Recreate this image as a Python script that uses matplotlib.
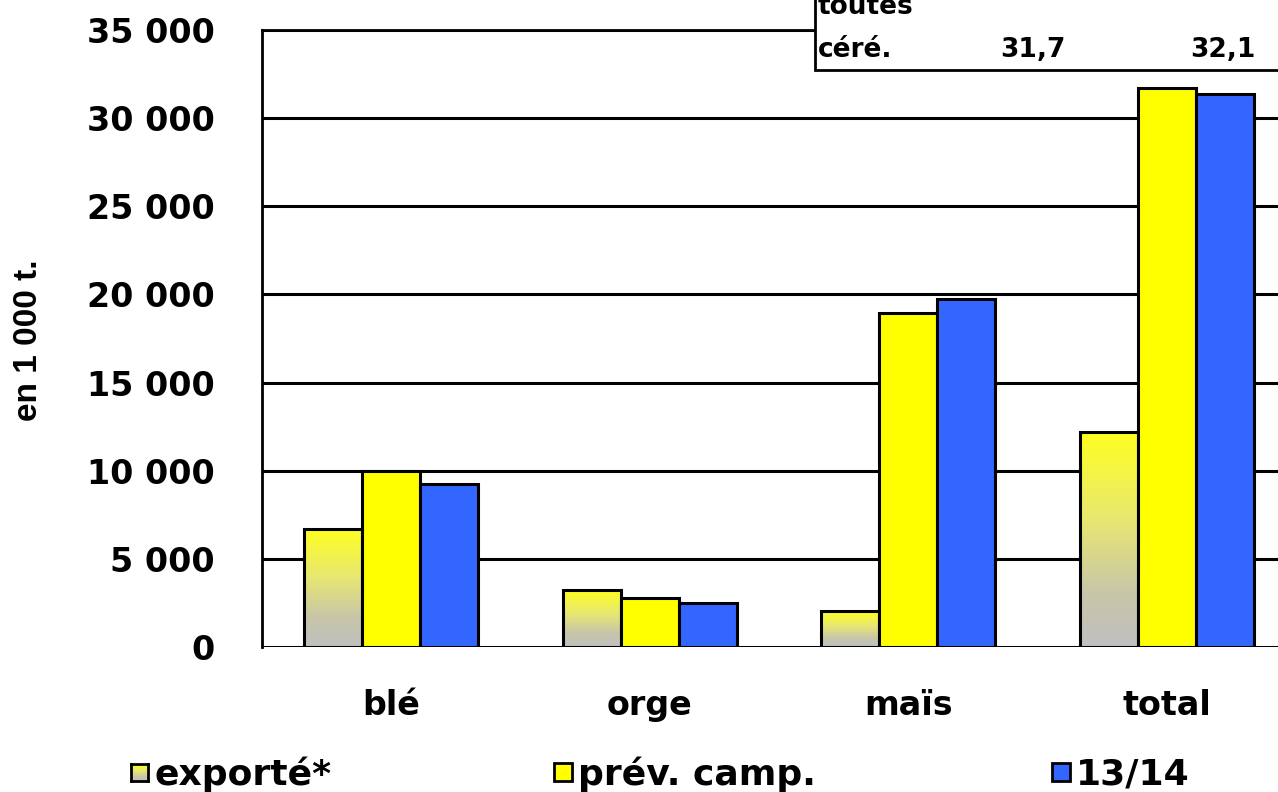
import matplotlib
matplotlib.use('Agg')
import matplotlib.pyplot as plt
import numpy as np
from matplotlib.colors import LinearSegmentedColormap
from matplotlib.patches import Rectangle

categories = ['blé', 'orge', 'maïs', 'total']
exporte = [6700, 3230, 2040, 12200]
prev_camp = [10000, 2780, 18950, 31700]
campagne_13_14 = [9250, 2500, 19740, 31370]
series_names = ['exporté*', 'prév. camp.', '13/14']
box_label = ['toutes', 'céré.']
box_values = ['31,7', '32,1']

W, H = 1278, 792
fig = plt.figure(figsize=(W / 100, H / 100), dpi=100)
ax = fig.add_axes([262 / W, (H - 647) / H, 1034 / W, 617 / H])

x = np.arange(len(categories))
bw = 0.224
grad = LinearSegmentedColormap.from_list('g', [(0, '#c0c0c0'), (0.25, '#c8c6a8'),
                                               (0.6, '#e8e870'), (1, '#ffff20')])

ex_bars = ax.bar(x - bw, exporte, bw, facecolor='none', edgecolor='black', linewidth=2.2, zorder=4)
ax.bar(x, prev_camp, bw, color='#ffff00', edgecolor='black', linewidth=2.2, zorder=4)
ax.bar(x + bw, campagne_13_14, bw, color='#3366ff', edgecolor='black', linewidth=2.2, zorder=4)

# gradient fill of the "exporté" bars
g = np.linspace(0, 1, 256).reshape(-1, 1)
for b in ex_bars:
    x0, y0 = b.get_x(), b.get_y()
    im = ax.imshow(g, cmap=grad, origin='lower', aspect='auto', zorder=3,
                   extent=[x0, x0 + b.get_width(), y0, y0 + b.get_height()])
    im.set_clip_path(b)

ax.set_xlim(-0.5, 3.5)
ax.set_ylim(0, 35000)
ax.set_yticks(range(0, 35001, 5000))
ax.set_yticklabels(['0' if v == 0 else f'{v // 1000} 000' for v in range(0, 35001, 5000)],
                   fontsize=24, fontweight='bold', family='DejaVu Sans')
ax.set_xticks(x)
ax.set_xticklabels(categories, fontsize=24, fontweight='bold', family='DejaVu Sans')
ax.tick_params(axis='y', length=0, pad=34)
ax.tick_params(axis='x', length=0, pad=30)
ax.yaxis.grid(True, color='black', linewidth=2.2, zorder=1)
ax.set_axisbelow(True)
for s in ['left', 'top']:
    ax.spines[s].set_linewidth(2)
for s in ['right', 'bottom']:
    ax.spines[s].set_visible(False)

fig.text(29 / W, 1 - 340 / H, 'en 1 000 t.', rotation=90, ha='center', va='center',
         fontsize=24, fontweight='bold', family='Liberation Sans')

# legend drawn by hand
leg_x = [131, 554, 1052]
leg_fc = [None, '#ffff00', '#3366ff']
for lx, fc, name in zip(leg_x, leg_fc, series_names):
    yb = 1 - 781 / H
    if fc is None:
        axl = fig.add_axes([lx / W, yb, 17 / W, 17 / H])
        axl.imshow(g, cmap=grad, origin='lower', aspect='auto', extent=[0, 1, 0, 1])
        axl.set_xticks([])
        axl.set_yticks([])
        for s in axl.spines.values():
            s.set_linewidth(2)
    else:
        fig.patches.append(Rectangle((lx / W, yb), 18 / W, 18 / H, transform=fig.transFigure,
                                     facecolor=fc, edgecolor='black', linewidth=2))
    fig.text((lx + 24) / W, 1 - 774 / H, name, ha='left', va='center',
             fontsize=26, fontweight='bold', family='DejaVu Sans')

# box top right
fig.patches.append(Rectangle((815 / W, 1 - 70 / H), 500 / W, 100 / H, transform=fig.transFigure,
                             facecolor='white', edgecolor='black', linewidth=2, zorder=5))
fig.text(818 / W, 1 - 7 / H, box_label[0], ha='left', va='center', fontsize=19,
         fontweight='bold', family='DejaVu Sans', zorder=6)
fig.text(818 / W, 1 - 50 / H, box_label[1], ha='left', va='center', fontsize=19,
         fontweight='bold', family='DejaVu Sans', zorder=6)
fig.text(1066 / W, 1 - 50 / H, box_values[0], ha='right', va='center', fontsize=19,
         fontweight='bold', family='DejaVu Sans', zorder=6)
fig.text(1256 / W, 1 - 50 / H, box_values[1], ha='right', va='center', fontsize=19,
         fontweight='bold', family='DejaVu Sans', zorder=6)

fig.savefig('out.png', dpi=100)
